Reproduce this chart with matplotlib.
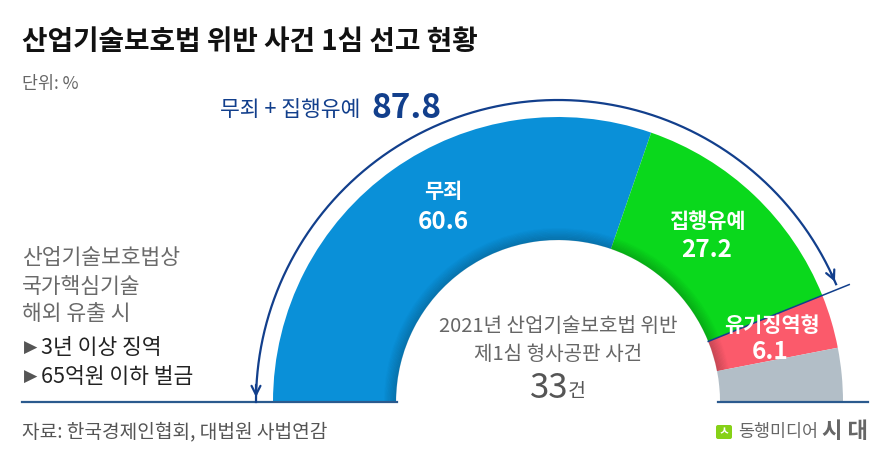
import numpy as np
import matplotlib
matplotlib.use('Agg')
import matplotlib.pyplot as plt
from matplotlib.patches import Wedge, FancyBboxPatch

plt.rcParams['font.family'] = ['Noto Sans CJK KR', 'DejaVu Sans']

labels = ['무죄', '집행유예', '유기징역형', '기타']
values = [60.6, 27.2, 6.1]
values.append(round(100 - sum(values), 1))
colors = ['#0a90d8', '#0ad81c', '#fb5a6b', '#b2bec7']
combo_label = '무죄 + 집행유예'
combo_value = values[0] + values[1]
total_cases = 33

W, H = 890, 461
fig = plt.figure(figsize=(W / 100, H / 100), dpi=100)
ax = fig.add_axes([0, 0, 1, 1])
ax.set_xlim(0, W)
ax.set_ylim(0, H)
ax.axis('off')

def Y(py):
    return H - py

cx, cy = 558, Y(402)
r_out, r_in = 285, 162
navy = '#123f8c'

# half donut, clockwise from the left
start = 180.0
bounds = []
for v, c in zip(values, colors):
    sweep = v / 100 * 180
    ax.add_patch(Wedge((cx, cy), r_out, start - sweep, start, width=r_out - r_in,
                       facecolor=c, edgecolor='none', zorder=2))
    bounds.append((start - sweep, start))
    start -= sweep

# inner shadow on coloured parts
shade_end = bounds[2][0]
for k in range(10):
    ax.add_patch(Wedge((cx, cy), r_in + 12 - k * 1.2, shade_end, 180, width=1.4,
                       facecolor='black', alpha=0.035 * (k + 1) / 2, edgecolor='none', zorder=3))

# baseline
ax.plot([22, cx - r_in + 1], [cy, cy], color='#2b5a8e', lw=1.6, zorder=4)
ax.plot([cx + r_in - 2, 868], [cy, cy], color='#2b5a8e', lw=1.6, zorder=4)

# boundary line after 무죄 + 집행유예
a = np.radians(bounds[1][0])
ax.plot([cx + r_in * np.cos(a), cx + 314 * np.cos(a)],
        [cy + r_in * np.sin(a), cy + 314 * np.sin(a)], color=navy, lw=1.1, zorder=4)

# bracket arc with arrows at both ends
r_arc = 302
a_end = bounds[1][0] + 1.0
t = np.radians(np.linspace(a_end, 180, 300))
ax.plot(cx + r_arc * np.cos(t), cy + r_arc * np.sin(t), color=navy, lw=1.6, zorder=4)
ax.annotate('', xy=(cx - r_arc, cy + 2), xytext=(cx - r_arc, cy + 20),
            arrowprops=dict(arrowstyle='->', color=navy, lw=1.6, mutation_scale=16))
te = np.radians(a_end)
ax.annotate('', xy=(cx + r_arc * np.cos(te), cy + r_arc * np.sin(te)),
            xytext=(cx + r_arc * np.cos(te + 0.05), cy + r_arc * np.sin(te + 0.05)),
            arrowprops=dict(arrowstyle='->', color=navy, lw=1.6, mutation_scale=16))

# segment labels
lab_kw = dict(color='white', fontweight='bold', ha='center', va='center', zorder=5)
ax.text(443, Y(192), labels[0], fontsize=15, **lab_kw)
ax.text(443, Y(222), f'{values[0]}', fontsize=17.5, **lab_kw)
ax.text(707, Y(222), labels[1], fontsize=15, **lab_kw)
ax.text(707, Y(250), f'{values[1]}', fontsize=17.5, **lab_kw)
ax.text(772, Y(325), labels[2], fontsize=15, **lab_kw)
ax.text(770, Y(352), f'{values[2]}', fontsize=17.5, **lab_kw)

# combined label
ax.text(220, Y(110), combo_label, color=navy, fontsize=15.5, ha='left', va='center')
ax.text(371, Y(108), f'{combo_value:.1f}', color=navy, fontsize=24, fontweight='bold', ha='left', va='center')

# centre text
ax.text(cx, Y(327), '2021년 산업기술보호법 위반', color='#666666', fontsize=14.5, ha='center', va='center')
ax.text(cx, Y(355), '제1심 형사공판 사건', color='#666666', fontsize=14.5, ha='center', va='center')
ax.text(549, Y(388), f'{total_cases}', color='#555555', fontsize=25, ha='center', va='center')
ax.text(568, Y(391), '건', color='#555555', fontsize=14, ha='left', va='center')

# title and notes
ax.text(22, Y(42), '산업기술보호법 위반 사건 1심 선고 현황', color='#111111', fontsize=20, fontweight='bold', ha='left', va='center')
ax.text(22, Y(84), '단위: %', color='#666666', fontsize=12.5, ha='left', va='center')

for py, s in zip([258, 287, 314], ['산업기술보호법상', '국가핵심기술', '해외 유출 시']):
    ax.text(22, Y(py), s, color='#6a6a6a', fontsize=15.5, ha='left', va='center')
for py, s in zip([348, 377], ['3년 이상 징역', '65억원 이하 벌금']):
    ax.text(24, Y(py), '▶', color='#555555', fontsize=12.5, ha='left', va='center', family=['DejaVu Sans'])
    ax.text(41, Y(py), s, color='#222222', fontsize=15.5, ha='left', va='center')

ax.text(22, Y(432), '자료: 한국경제인협회, 대법원 사법연감', color='#555555', fontsize=13.8, ha='left', va='center')

# logo
ax.add_patch(FancyBboxPatch((716, Y(439)), 16, 14, boxstyle='round,pad=0,rounding_size=2',
                            facecolor='#86d117', edgecolor='none'))
ax.text(724, Y(432), 'ㅅ', color='white', fontsize=8.5, fontweight='bold', ha='center', va='center')
ax.text(738, Y(432), '동행미디어', color='#666666', fontsize=12.5, ha='left', va='center')
ax.text(868, Y(431), '시 대', color='#666666', fontsize=16, fontweight='bold', ha='right', va='center')

fig.savefig('out.png', dpi=100)
